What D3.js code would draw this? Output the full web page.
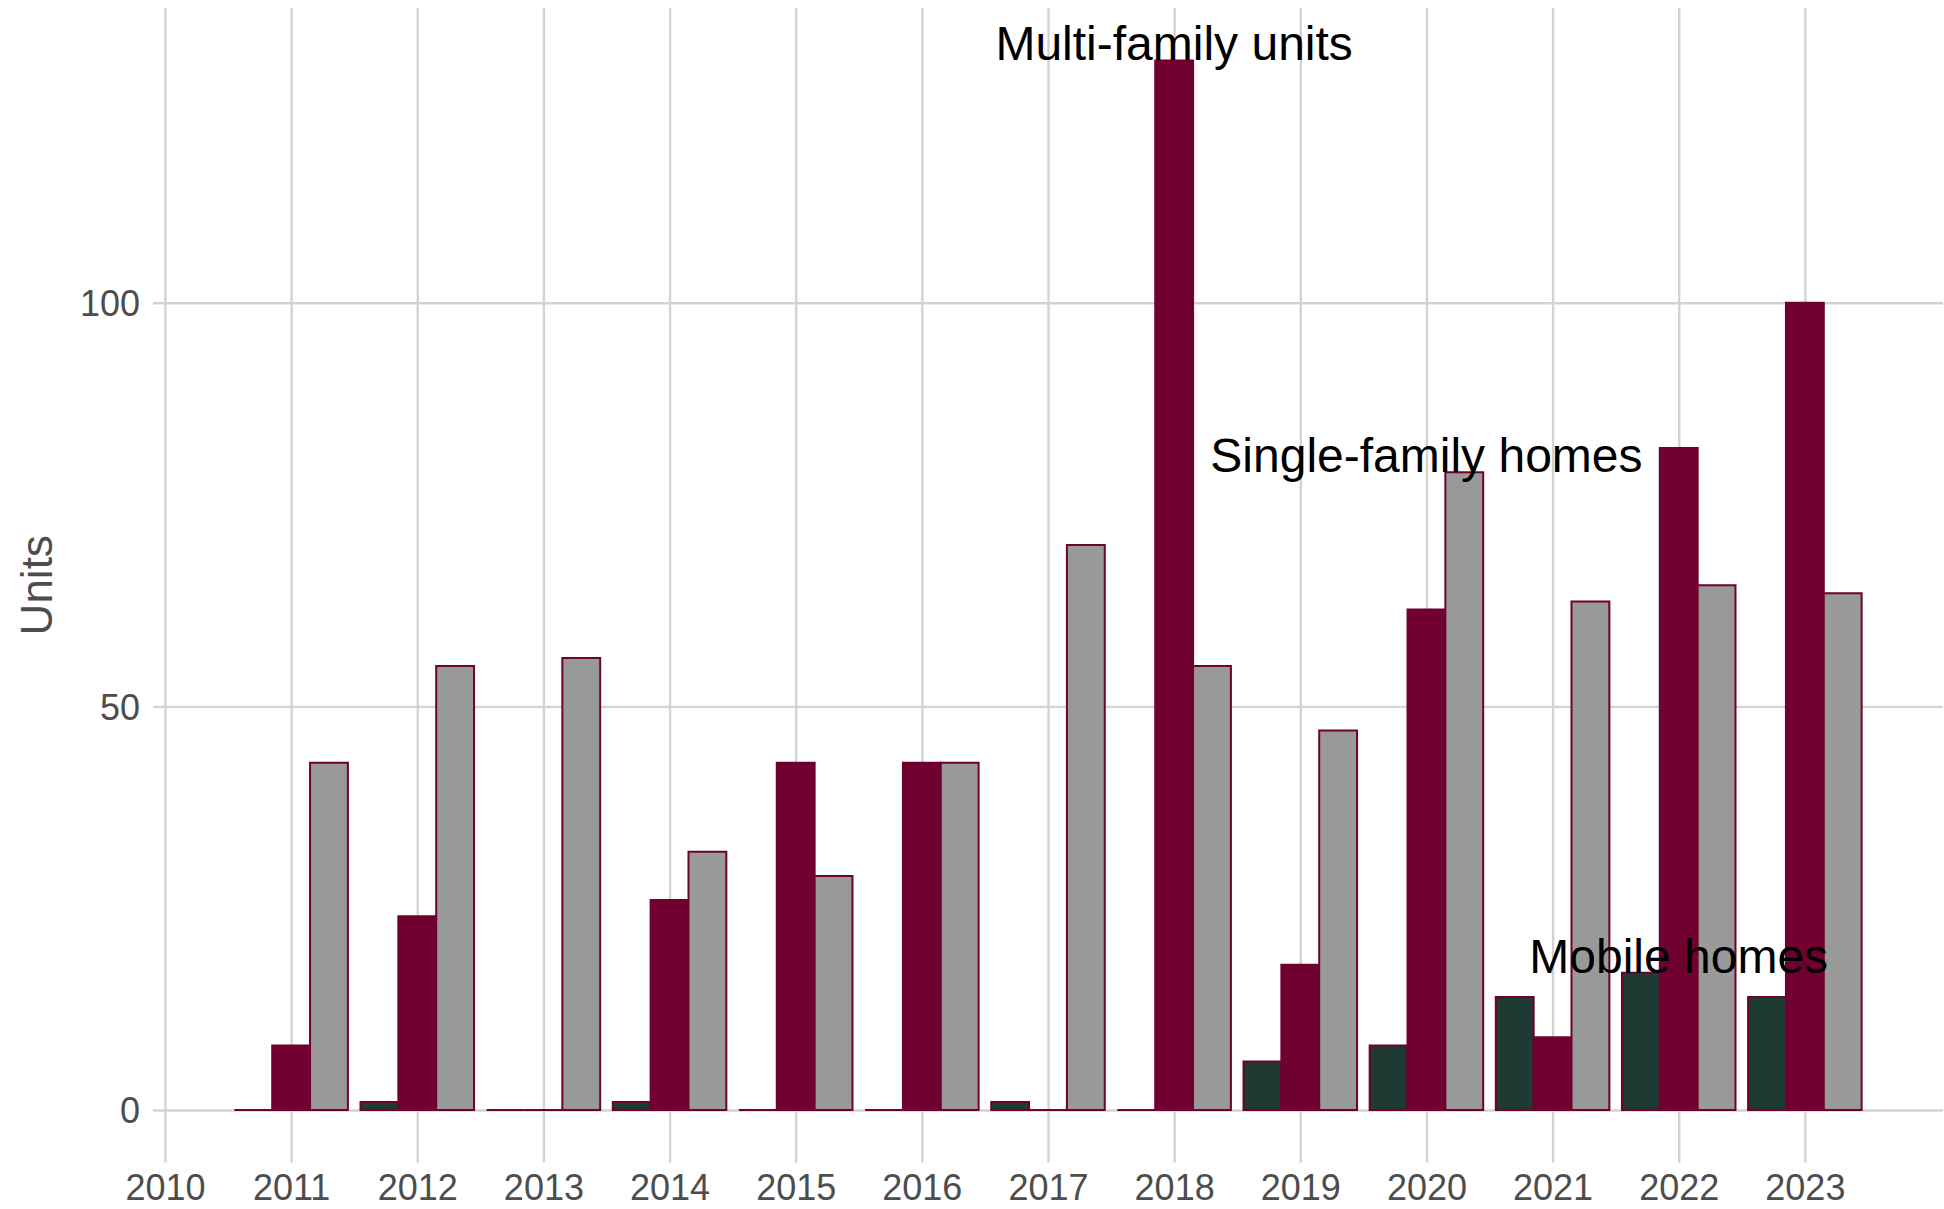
<!DOCTYPE html>
<html>
<head>
<meta charset="utf-8">
<script src="https://cdn.jsdelivr.net/npm/d3@7/dist/d3.min.js"></script>
<style>
  body { margin: 0; background: #fff; }
  svg text { font-family: "Liberation Sans", Arial, sans-serif; }
</style>
</head>
<body>
<svg id="vis"></svg>
<script>
const width = 1944;
const height = 1209;

// data (units per year)
const years = [2011, 2012, 2013, 2014, 2015, 2016, 2017, 2018, 2019, 2020, 2021, 2022, 2023];
const seriesNames = ["Mobile homes", "Multi-family units", "Single-family homes"];
const mobileHomes = [0, 1, 0, 1, 0, 0, 1, 0, 6, 8, 14, 17, 14];
const multiFamily = [8, 24, 0, 26, 43, 43, 0, 130, 18, 62, 9, 82, 100];
const singleFamily = [43, 55, 56, 32, 29, 43, 70, 55, 47, 79, 63, 65, 64];
const xTicks = [2010, 2011, 2012, 2013, 2014, 2015, 2016, 2017, 2018, 2019, 2020, 2021, 2022, 2023];
const yTicks = [0, 50, 100];
// where each series name is written (year of the bar it sits on)
const labelYears = [2022, 2018, 2020];

const fills = ["#1f3a33", "#700030", "#999999"];
const strokeColor = "#700030";

const margin = {top: 8, right: 1, bottom: 46.5, left: 153};

const svg = d3.select("svg#vis")
  .attr("width", width)
  .attr("height", height);

const allSeries = [mobileHomes, multiFamily, singleFamily];

// flatten into one row per bar
const bars = [];
years.forEach(function(yr, i) {
  seriesNames.forEach(function(s, j) {
    bars.push({year: yr, series: s, value: allSeries[j][i]});
  });
});

// ggplot-like 5% expansion
const xMin = years[0] - 0.45, xMax = years[years.length - 1] + 0.45;
const xPad = (xMax - xMin) * 0.05;
const yMaxData = d3.max(bars, d => d.value);
const yPad = yMaxData * 0.05;

const x = d3.scaleLinear()
  .domain([xMin - xPad, xMax + xPad])
  .range([margin.left, width - margin.right]);

const y = d3.scaleLinear()
  .domain([-yPad, yMaxData + yPad])
  .range([height - margin.bottom, margin.top]);

// position inside a year group, in year units
const inner = d3.scaleBand()
  .domain(seriesNames)
  .range([-0.45, 0.45]);

const color = d3.scaleOrdinal().domain(seriesNames).range(fills);

// grid + axes
const xAxis = d3.axisBottom(x)
  .tickValues(xTicks)
  .tickFormat(d3.format("d"))
  .tickSize(-(height - margin.bottom - margin.top))
  .tickPadding(12);

const yAxis = d3.axisLeft(y)
  .tickValues(yTicks)
  .tickFormat(d3.format("d"))
  .tickSize(-(width - margin.left - margin.right))
  .tickPadding(13);

const gx = svg.append("g")
  .attr("transform", "translate(0," + (height - margin.bottom) + ")")
  .call(xAxis);

const gy = svg.append("g")
  .attr("transform", "translate(" + margin.left + ",0)")
  .call(yAxis);

[gx, gy].forEach(function(g) {
  g.select(".domain").remove();
  g.selectAll(".tick line")
    .attr("stroke", "#d3d3d3")
    .attr("stroke-width", 2.4);
  g.selectAll(".tick text")
    .attr("fill", "#4d4d4d")
    .style("font-size", "36px");
});
gy.selectAll(".tick text").attr("dy", "0.36em");

// y title
svg.append("text")
  .attr("transform", "translate(52," + ((margin.top + height - margin.bottom) / 2) + ") rotate(-90)")
  .attr("text-anchor", "middle")
  .attr("fill", "#4d4d4d")
  .style("font-size", "44px")
  .text("Units");

// bars (paths so zero-height bars still show their outline)
svg.append("g")
  .selectAll("path.bar")
  .data(bars)
  .enter()
  .append("path")
  .attr("class", "bar")
  .attr("d", function(d) {
    const x0 = x(d.year + inner(d.series));
    const x1 = x(d.year + inner(d.series) + inner.bandwidth());
    const y0 = y(0), y1 = y(d.value);
    return "M" + x0 + "," + y0 + "H" + x1 + "V" + y1 + "H" + x0 + "Z";
  })
  .attr("fill", d => color(d.series))
  .attr("stroke", strokeColor)
  .attr("stroke-width", 2);

// series labels
svg.append("g")
  .selectAll("text.label")
  .data(seriesNames)
  .enter()
  .append("text")
  .attr("class", "label")
  .attr("x", (d, i) => x(labelYears[i]))
  .attr("y", function(d, i) {
    const idx = years.indexOf(labelYears[i]);
    return y(allSeries[i][idx]);
  })
  .attr("text-anchor", "middle")
  .attr("fill", "#000")
  .style("font-size", "48px")
  .text(d => d);
</script>
</body>
</html>
